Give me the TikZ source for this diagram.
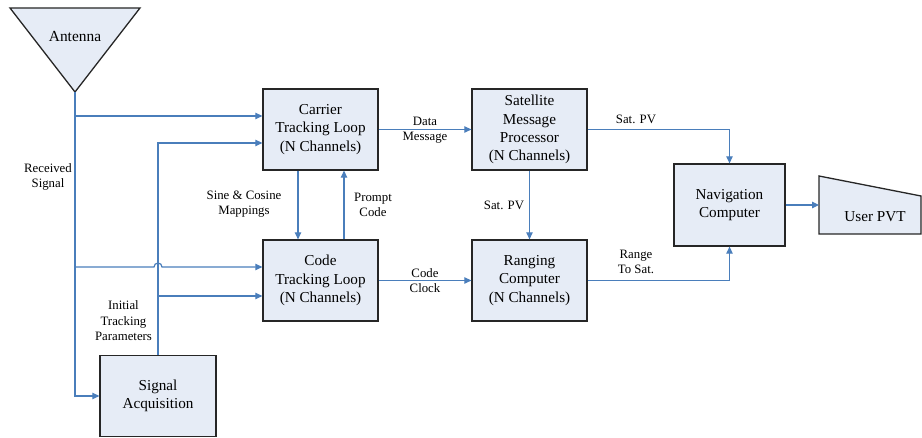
\documentclass[tikz,border=0pt]{standalone}
\usepackage{fontspec}
\setmainfont{Liberation Serif}
\usetikzlibrary{arrows.meta}
\definecolor{linkblue}{HTML}{4A7EBB}
\definecolor{boxfill}{HTML}{E6ECF6}
\tikzset{
  block/.style={draw=black!85, line width=1.3pt, fill=boxfill, align=center,
    minimum width=115pt, minimum height=81pt, inner sep=0pt,
    font=\fontsize{15.2}{18.3}\selectfont},
  arr/.style={draw=linkblue, line width=1.2pt, -{Triangle[length=7pt,width=6.5pt]}},
  lbl/.style={align=center, inner sep=0pt, font=\fontsize{12.8}{15.5}\selectfont}
}
\begin{document}
\begin{tikzpicture}[x=1pt,y=-1pt]
    \useasboundingbox (0,0) rectangle (922,438);
    % antenna and output shapes
    \filldraw[fill=boxfill, draw=black!85, line width=1.3pt] (10,8) -- (140,8) -- (75,92) -- cycle;
    \node[font=\fontsize{15.4}{18}\selectfont] (ant) at (75,36) {Antenna};
    \coordinate (apex) at (75,92);
    \filldraw[fill=boxfill, draw=black!85, line width=1.3pt] (819,176) -- (921,196) -- (921,234) -- (819,234) -- cycle;
    \node[font=\fontsize{15.2}{18}\selectfont] (pvt) at (875,217) {User PVT};
    \coordinate (pvtin) at (819,205);
    % blocks
    \node[block] (carrier) at (320.5,129.5) {Carrier\\Tracking Loop\\(N Channels)};
    \node[block] (code) at (320.5,280.5) {Code\\Tracking Loop\\(N Channels)};
    \node[block] (smp) at (529.5,129.5) {Satellite\\Message\\Processor\\(N Channels)};
    \node[block] (rng) at (529.5,280.5) {Ranging\\Computer\\(N Channels)};
    \node[block, minimum width=111pt, minimum height=82pt] (nav) at (729.5,205) {Navigation\\Computer};
    \node[block, minimum width=116pt] (acq) at (158,396) {Signal\\Acquisition};
    % received signal
    \coordinate (rx1) at (75,116);
    \coordinate (rx2) at (75,267);
    \draw[arr] (apex) |- (acq.west);
    \draw[arr] (rx1) -- (rx1 -| carrier.west);
    \draw[arr] (rx2) -- (154,267) arc (180:360:4) -- (rx2 -| code.west);
    % initial tracking parameters
    \coordinate (ip1) at (158,143);
    \coordinate (ip2) at (158,296);
    \draw[arr] (acq.north) -- (ip1) -- (ip1 -| carrier.west);
    \draw[arr] (ip2) -- (ip2 -| code.west);
    % between the loops
    \draw[arr] ([xshift=-22.5pt]carrier.south) -- ([xshift=-22.5pt]code.north);
    \draw[arr] ([xshift=23.5pt]code.north) -- ([xshift=23.5pt]carrier.south);
    \draw[arr] (carrier.east) -- (smp.west);
    \draw[arr] (code.east) -- (rng.west);
    \draw[arr] (smp.south) -- (rng.north);
    \draw[arr] (smp.east) -| (nav.north);
    \draw[arr] (rng.east) -| (nav.south);
    \draw[arr] (nav.east) -- (pvtin);
    % labels
    \node[lbl] (l1) at (48,177) {Received\\Signal};
    \node[lbl] (l2) at (123.5,321) {Initial\\Tracking\\Parameters};
    \node[lbl] (l3) at (244,204) {Sine \& Cosine\\Mappings};
    \node[lbl] (l4) at (373,205) {Prompt\\Code};
    \node[lbl] (l5) at (425,130) {Data\\Message};
    \node[lbl] (l6) at (425,280.5) {Code\\Clock};
    \node[lbl] (l7) at (504,205) {Sat. PV};
    \node[lbl] (l8) at (636,119) {Sat. PV};
    \node[lbl] (l9) at (636,262) {Range\\To Sat.};
\end{tikzpicture}
\end{document}
